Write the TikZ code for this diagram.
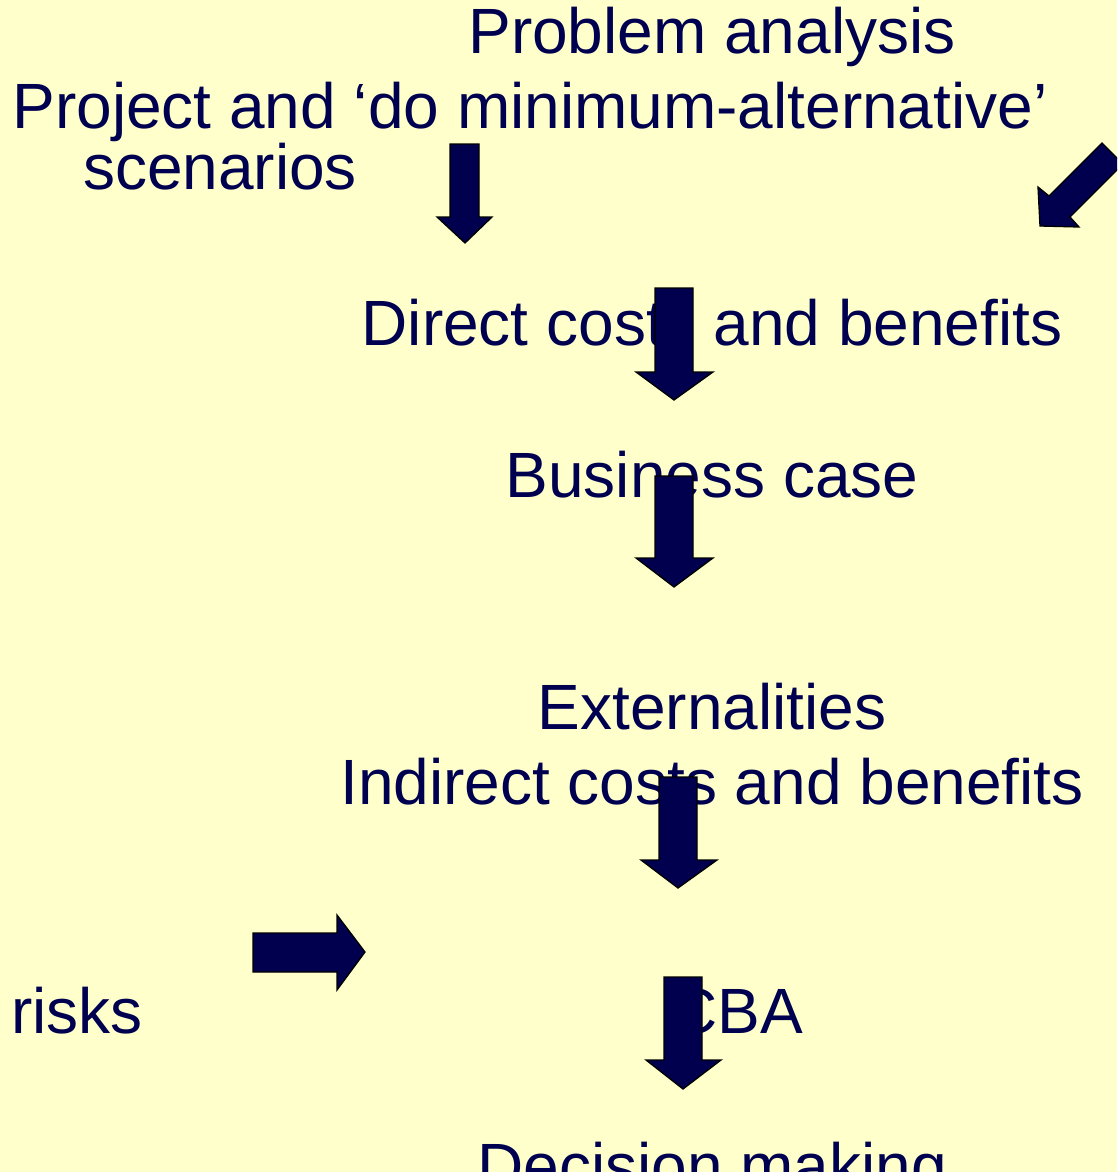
\documentclass[tikz,border=0pt]{standalone}
\usepackage{fontspec}
\setmainfont{Liberation Sans}
\definecolor{bgyellow}{HTML}{FFFFCC}
\definecolor{txtnavy}{HTML}{000050}
\definecolor{arrnavy}{HTML}{00004E}
\tikzset{
  lbl/.style={inner sep=0pt, anchor=base, text=txtnavy, font=\fontsize{64}{64}\selectfont},
  blockarrow/.style={fill=arrnavy, draw=black, line width=1.3pt, line join=miter}
}
\begin{document}
\begin{tikzpicture}[x=1pt,y=-1pt]
\useasboundingbox (0,0) rectangle (1117,1172);
\fill[bgyellow] (0,0) rectangle (1117,1172);
\clip (0,0) rectangle (1117,1172);
% texts
\node[lbl] (pa) at (712,54) {Problem analysis};
\node[lbl] (proj) at (530,128) {Project and ‘do minimum-alternative’};
\node[lbl] (scen) at (220,189) {scenarios};
\node[lbl] (direct) at (712,345) {Direct costs and benefits};
\node[lbl] (business) at (712,497) {Business case};
\node[lbl] (ext) at (712,729) {Externalities};
\node[lbl] (indirect) at (712,804) {Indirect costs and benefits};
\node[lbl] (risks) at (77,1033) {risks};
\node[lbl] (cba) at (737,1033) {CBA};
\node[lbl] (decision) at (712,1188) {Decision making};
% block arrows
\draw[blockarrow] (450,144) -- (479,144) -- (479,217) -- (492,217) -- (465,243) -- (437,217) -- (450,217) -- cycle;
\draw[blockarrow] (1040,226) -- (1038,187) -- (1049,196) -- (1102,143) -- (1123,164) -- (1070,217) -- (1079,227) -- cycle;
\draw[blockarrow] (655,288) -- (693,288) -- (693,372) -- (713,372) -- (674,400) -- (636,372) -- (655,372) -- cycle;
\draw[blockarrow] (655,476) -- (693,476) -- (693,558) -- (713,558) -- (674,587) -- (636,558) -- (655,558) -- cycle;
\draw[blockarrow] (659,777) -- (697,777) -- (697,860) -- (717,860) -- (678,888) -- (641,860) -- (659,860) -- cycle;
\draw[blockarrow] (664,977) -- (702,977) -- (702,1060) -- (721,1060) -- (683,1089) -- (646,1060) -- (664,1060) -- cycle;
\draw[blockarrow] (253,933) -- (337,933) -- (337,915) -- (365,952) -- (337,990) -- (337,972) -- (253,972) -- cycle;
\end{tikzpicture}
\end{document}
